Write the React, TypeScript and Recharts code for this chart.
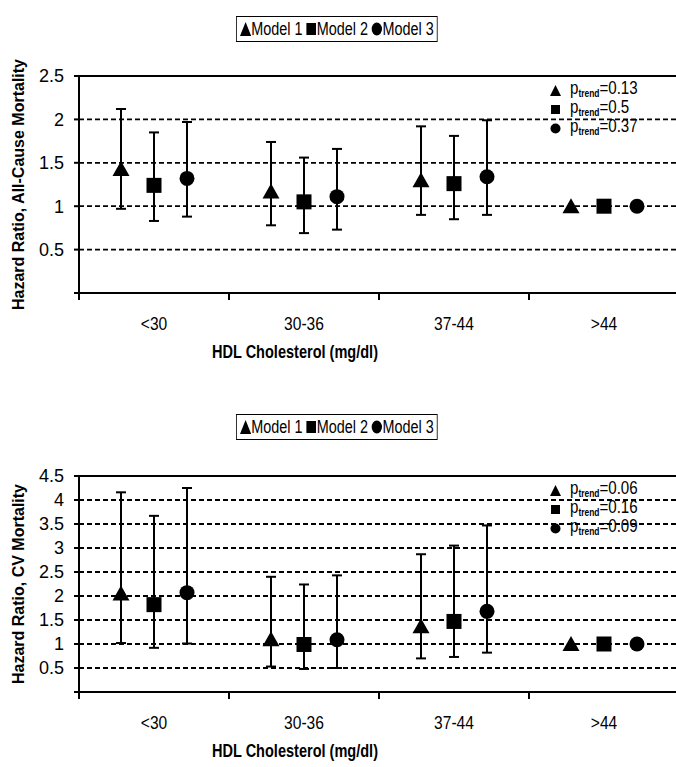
import React from "react";
import { ScatterChart, Scatter, XAxis, YAxis, CartesianGrid, ErrorBar, ReferenceLine } from "recharts";

const categories = ["<30", "30-36", "37-44", ">44"];
const modelNames = ["Model 1", "Model 2", "Model 3"];

// all-cause mortality
const acModel1 = [1.43, 1.17, 1.3, 1.0];
const acModel1Low = [0.97, 0.78, 0.9, null];
const acModel1High = [2.12, 1.74, 1.92, null];
const acModel2 = [1.24, 1.05, 1.26, 1.0];
const acModel2Low = [0.83, 0.69, 0.85, null];
const acModel2High = [1.85, 1.56, 1.81, null];
const acModel3 = [1.32, 1.11, 1.34, 1.0];
const acModel3Low = [0.88, 0.73, 0.9, null];
const acModel3High = [1.97, 1.66, 1.99, null];
const acPTrend = ["0.13", "0.5", "0.37"];
const acTicks = [0, 0.5, 1, 1.5, 2, 2.5];

// CV mortality
const cvModel1 = [2.05, 1.1, 1.37, 1.0];
const cvModel1Low = [1.02, 0.53, 0.7, null];
const cvModel1High = [4.16, 2.4, 2.87, null];
const cvModel2 = [1.82, 0.99, 1.47, 1.0];
const cvModel2Low = [0.92, 0.48, 0.73, null];
const cvModel2High = [3.67, 2.24, 3.05, null];
const cvModel3 = [2.07, 1.09, 1.68, 1.0];
const cvModel3Low = [1.01, 0.5, 0.82, null];
const cvModel3High = [4.25, 2.43, 3.47, null];
const cvPTrend = ["0.06", "0.16", "0.09"];
const cvTicks = [0, 0.5, 1, 1.5, 2, 2.5, 3, 3.5, 4, 4.5];

const FONT = "'Liberation Sans', Arial, sans-serif";
const OFFSETS = [-0.22, 0, 0.22];
const xTicks = categories.flatMap((_, i) => [i, i + 0.5]).concat(categories.length);

function rows(est: number[], low: (number | null)[], high: (number | null)[], k: number) {
  return est.map((v, i) => ({
    x: i + 0.5 + OFFSETS[k],
    y: v,
    err: low[i] == null ? null : [v - (low[i] as number), (high[i] as number) - v],
  }));
}

const Triangle = ({ cx, cy }: any) => (
  <polygon points={`${cx},${cy - 8} ${cx - 8.5},${cy + 7} ${cx + 8.5},${cy + 7}`} fill="#000" />
);
const Square = ({ cx, cy }: any) => <rect x={cx - 7.5} y={cy - 7.5} width={15} height={15} fill="#000" />;
const Dot = ({ cx, cy }: any) => <circle cx={cx} cy={cy} r={7.5} fill="#000" />;
const shapes = [Triangle, Square, Dot];

const XTick = ({ x, y, payload }: any) => {
  const v = payload.value;
  if (Number.isInteger(v)) {
    return <line x1={x} x2={x} y1={y} y2={y + 7} stroke="#000" strokeWidth={2} />;
  }
  const label = categories[Math.floor(v)];
  return (
    <text
      x={x}
      y={y + 30}
      textAnchor="middle"
      dominantBaseline="central"
      fontFamily={FONT}
      fontSize={19}
      fill="#000"
      transform={`translate(${x} 0) scale(0.82 1) translate(${-x} 0)`}
    >
      {label}
    </text>
  );
};

const MiniMarker = ({ k, s }: { k: number; s: number }) => (
  <svg width={s} height={s} style={{ display: "inline-block", verticalAlign: "middle" }}>
    {k === 0 && <polygon points={`${s / 2},0 0,${s} ${s},${s}`} fill="#000" />}
    {k === 1 && <rect x={1} y={1} width={s - 2} height={s - 2} fill="#000" />}
    {k === 2 && <circle cx={s / 2} cy={s / 2} r={s / 2 - 0.5} fill="#000" />}
  </svg>
);

function LegendBox({ top }: { top: number }) {
  return (
    <div
      style={{
        position: "absolute",
        top,
        left: 236,
        height: 26,
        boxSizing: "border-box",
        border: "1.8px solid #000",
        padding: "0 4px",
        display: "flex",
        alignItems: "center",
        gap: 4,
        fontFamily: FONT,
        fontSize: 18,
        background: "#fff",
        transform: "scaleX(0.8)",
        transformOrigin: "left center",
      }}
    >
      {modelNames.map((m, k) => (
        <span key={m} style={{ display: "flex", alignItems: "center" }}>
          <MiniMarker k={k} s={14} />
          {m}
        </span>
      ))}
    </div>
  );
}

function PTrend({ top, values }: { top: number; values: string[] }) {
  return (
    <div style={{ position: "absolute", top, left: 550, fontFamily: FONT, fontSize: 18, lineHeight: "19px" }}>
      {values.map((p, k) => (
        <div key={k} style={{ display: "flex", alignItems: "center", height: 19 }}>
          <MiniMarker k={k} s={11} />
          <span style={{ marginLeft: 9, display: "inline-block", transform: "scaleX(0.84)", transformOrigin: "left center" }}>
            p<sub style={{ fontSize: 10, fontWeight: "bold", verticalAlign: "-3px" }}>trend</sub>={p}
          </span>
        </div>
      ))}
    </div>
  );
}

function Panel({
  top,
  height,
  plotHeight,
  ticks,
  yLabel,
  series,
}: {
  top: number;
  height: number;
  plotHeight: number;
  ticks: number[];
  yLabel: string;
  series: any[][];
}) {
  const yMax = ticks[ticks.length - 1];
  return (
    <div style={{ position: "absolute", top, left: 0 }}>
      <ScatterChart width={679} height={height} margin={{ top: 28, right: 0, bottom: 0, left: 0 }}>
        <CartesianGrid vertical={false} stroke="#000" strokeWidth={1.8} strokeDasharray="5 3" />
        <XAxis
          type="number"
          dataKey="x"
          domain={[0, categories.length]}
          ticks={xTicks}
          interval={0}
          tick={<XTick />}
          tickLine={false}
          tickSize={0}
          tickMargin={0}
          axisLine={{ stroke: "#000", strokeWidth: 2 }}
          height={height - 28 - plotHeight}
          label={{
            content: ({ viewBox }: any) => (
              <text
                x={viewBox.x + viewBox.width / 2 - 84}
                y={viewBox.y + 58}
                textAnchor="middle"
                dominantBaseline="central"
                fontFamily={FONT}
                fontSize={19}
                fontWeight="bold"
                textLength={166}
                lengthAdjust="spacingAndGlyphs"
              >
                HDL Cholesterol (mg/dl)
              </text>
            ),
          }}
        />
        <YAxis
          type="number"
          dataKey="y"
          domain={[0, yMax]}
          ticks={ticks}
          interval={0}
          width={79}
          tickSize={5}
          tickMargin={10}
          tickFormatter={(v: number) => (v === 0 ? "" : String(v))}
          tick={{ fill: "#000", fontFamily: FONT, fontSize: 18 }}
          tickLine={{ stroke: "#000", strokeWidth: 2 }}
          axisLine={{ stroke: "#000", strokeWidth: 2 }}
          label={{
            content: ({ viewBox }: any) => {
              const cx = viewBox.x + 18;
              const cy = viewBox.y + viewBox.height / 2;
              return (
                <text
                  x={cx}
                  y={cy}
                  transform={`rotate(-90 ${cx} ${cy})`}
                  textAnchor="middle"
                  dominantBaseline="central"
                  fontFamily={FONT}
                  fontSize={16}
                  fontWeight="bold"
                >
                  {yLabel}
                </text>
              );
            },
          }}
        />
        <ReferenceLine y={yMax} stroke="#000" strokeWidth={2} />
        {series.map((data, k) => (
          <Scatter key={k} name={modelNames[k]} data={data} shape={shapes[k]} isAnimationActive={false}>
            <ErrorBar dataKey="err" direction="y" width={5} stroke="#000" strokeWidth={2} />
          </Scatter>
        ))}
      </ScatterChart>
    </div>
  );
}

export default function App() {
  const acSeries = [
    rows(acModel1, acModel1Low, acModel1High, 0),
    rows(acModel2, acModel2Low, acModel2High, 1),
    rows(acModel3, acModel3Low, acModel3High, 2),
  ];
  const cvSeries = [
    rows(cvModel1, cvModel1Low, cvModel1High, 0),
    rows(cvModel2, cvModel2Low, cvModel2High, 1),
    rows(cvModel3, cvModel3Low, cvModel3High, 2),
  ];
  return (
    <div style={{ position: "relative", width: 676, height: 767, overflow: "hidden", background: "#fff" }}>
      <style>{"body{margin:0}"}</style>
      <LegendBox top={16} />
      <Panel top={48} height={320} plotHeight={217} ticks={acTicks} yLabel="Hazard Ratio, All-Cause Mortality" series={acSeries} />
      <PTrend top={81} values={acPTrend} />
      <LegendBox top={414} />
      <Panel top={448} height={319} plotHeight={216} ticks={cvTicks} yLabel="Hazard Ratio, CV Mortality" series={cvSeries} />
      <PTrend top={481} values={cvPTrend} />
    </div>
  );
}
